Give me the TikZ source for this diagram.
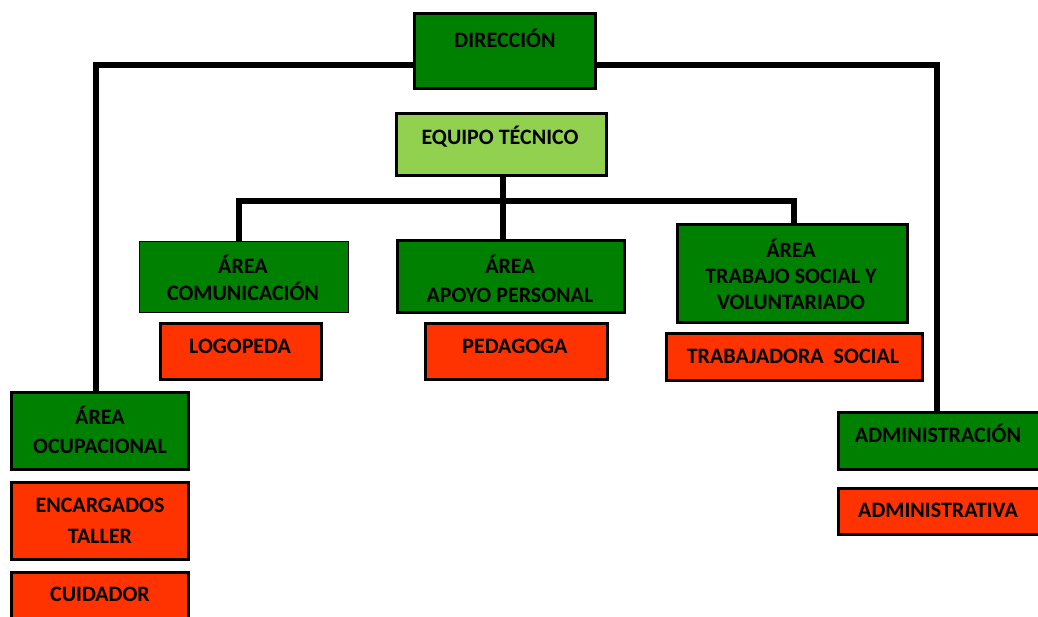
\documentclass[tikz,border=0pt]{standalone}
\usepackage{fontspec}
\setmainfont{Carlito}
\definecolor{dgreen}{RGB}{0,128,0}
\definecolor{lgreen}{RGB}{146,208,80}
\definecolor{ored}{RGB}{255,51,0}
\tikzset{
  box/.style={draw=black, line width=3pt, rectangle, inner sep=0pt},
  gbox/.style={box, fill=dgreen},
  lbox/.style={box, fill=lgreen},
  obox/.style={box, fill=ored},
  txt/.style={font=\fontsize{22}{26}\selectfont\bfseries, inner sep=0pt, anchor=center},
  conn/.style={draw=black, line width=5.5pt},
}
\newcommand{\boxat}[6]{% style, name, x1, y1, x2, y2
  \node[#1, minimum width={(#5-#3)*1pt}, minimum height={(#6-#4)*1pt}] (#2) at ({(#3+#5)/2},{(#4+#6)/2}) {};}
\begin{document}
\begin{tikzpicture}[x=1pt,y=-1pt]
\useasboundingbox (0,0) rectangle (1038,617);
\clip (0,0) rectangle (1038,617);
\coordinate (lt) at (96,65);
\coordinate (rt) at (937,65);
\coordinate (bl) at (239,201);
\coordinate (br) at (794,201);
\coordinate (bm) at (503,201);
% boxes
\boxat{gbox}{dir}{414}{14}{595}{89}
\boxat{lbox}{eq}{396}{114}{606}{176}
\boxat{gbox,line width=1pt}{com}{139}{242}{348}{313}
\boxat{gbox}{apo}{397}{241}{624}{313}
\boxat{gbox}{tra}{677}{225}{907}{323}
\boxat{obox}{tso}{666}{334}{922}{380}
\boxat{obox}{logo}{160}{324}{321}{379}
\boxat{obox}{ped}{425}{324}{607}{379}
\boxat{gbox}{ocu}{11}{392}{188}{469}
\boxat{obox}{enc}{11}{482}{188}{559}
\boxat{obox}{cui}{11}{572}{188}{630}
\boxat{gbox}{adm}{838}{412}{1050}{469}
\boxat{obox}{adv}{838}{488}{1050}{534}
% connectors
\draw[conn] (dir.west |- lt) -- (lt) -- (lt |- ocu.north);
\draw[conn] (dir.east |- rt) -- (rt) -- (rt |- adm.north);
\draw[conn] (eq.south -| bm) -- (bm |- apo.north);
\draw[conn] (bl |- com.north) -- (bl) -- (br) -- (br |- tra.north);
% texts
\node[txt] (tdir) at (505,38) {DIRECCIÓN};
\node[txt] (teq) at (500,137) {EQUIPO TÉCNICO};
\node[txt] (tcom1) at (243,264) {ÁREA};
\node[txt] (tcom2) at (243,291) {COMUNICACIÓN};
\node[txt] (tapo1) at (510,264) {ÁREA};
\node[txt] (tapo2) at (510,295) {APOYO PERSONAL};
\node[txt] (ttra1) at (791,248) {ÁREA};
\node[txt] (ttra2) at (791,276) {TRABAJO SOCIAL Y};
\node[txt] (ttra3) at (791,302) {VOLUNTARIADO};
\node[txt] (ttso) at (793,356) {TRABAJADORA\ \ SOCIAL};
\node[txt] (tlogo) at (240,346) {LOGOPEDA};
\node[txt] (tped) at (515,346) {PEDAGOGA};
\node[txt] (tocu1) at (100,415) {ÁREA};
\node[txt] (tocu2) at (100,446) {OCUPACIONAL};
\node[txt] (tenc1) at (100,505) {ENCARGADOS};
\node[txt] (tenc2) at (100,536) {TALLER};
\node[txt] (tcui) at (100,594) {CUIDADOR};
\node[txt] (tadm) at (938,433) {ADMINISTRACIÓN};
\node[txt] (tadv) at (938,510) {ADMINISTRATIVA};
\end{tikzpicture}
\end{document}
